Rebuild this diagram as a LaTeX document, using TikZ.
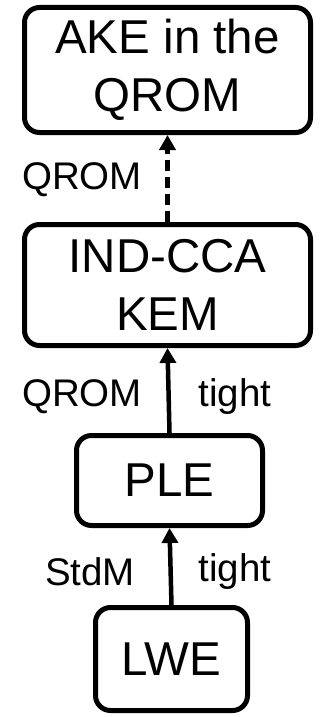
\documentclass[tikz,border=0pt]{standalone}
\usepackage{fontspec}
\setmainfont{Liberation Sans}
\usetikzlibrary{arrows.meta}
\begin{document}
\begin{tikzpicture}[x=1pt,y=-1pt,
  box/.style={draw, line width=5pt, rounded corners=15pt, inner sep=0pt,
    align=center, font=\fontsize{47.5}{58}\selectfont},
  lbl/.style={inner sep=0pt, font=\fontsize{38.5}{46}\selectfont},
  link/.style={line width=4.5pt, -{Triangle[length=15pt,width=16pt]}},
  weak/.style={link, dash pattern=on 11pt off 6pt}]
  \useasboundingbox (0,0) rectangle (322,717);
  % security notions, top to bottom
  \node[box, minimum width=286pt, minimum height=125pt] (ake) at (167.5,70) {AKE in the\\QROM};
  \node[box, minimum width=286pt, minimum height=121pt] (kem) at (167.5,285) {IND-CCA\\KEM};
  \node[box, minimum width=186pt, minimum height=90pt] (ple) at (169.5,480.5) {PLE};
  \node[box, minimum width=152pt, minimum height=103pt] (lwe) at (171.5,659) {LWE};
  % reductions
  \draw[weak] (kem.north) -- (ake.south);
  \draw[link] (ple.north) -- (kem.south);
  \draw[link] (lwe.north) -- (ple.south);
  % reduction labels
  \node[lbl] (l1) at (82,180) {QROM};
  \node[lbl] (l2) at (82,397) {QROM};
  \node[lbl] (l3) at (235,397) {tight};
  \node[lbl] (l4) at (90,572) {StdM};
  \node[lbl] (l5) at (235,572) {tight};
\end{tikzpicture}
\end{document}
